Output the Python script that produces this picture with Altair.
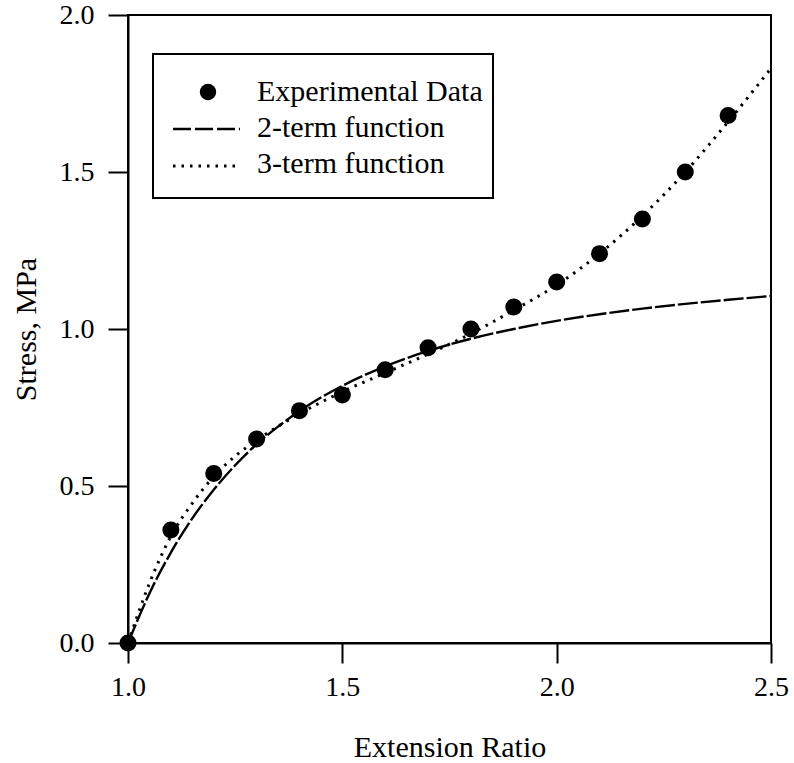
import altair as alt
import pandas as pd

# Experimental data
ext_ratio = [1.0, 1.1, 1.2, 1.3, 1.4, 1.5, 1.6, 1.7, 1.8, 1.9, 2.0, 2.1, 2.2, 2.3, 2.4]
stress_exp = [0.0, 0.36, 0.54, 0.65, 0.74, 0.79, 0.87, 0.94, 1.00, 1.07, 1.15, 1.24, 1.35, 1.50, 1.68]

# Fitted curves
curve_x = [1.0, 1.05, 1.1, 1.15, 1.2, 1.25, 1.3, 1.35, 1.4, 1.5, 1.6, 1.7, 1.8, 1.9,
           2.0, 2.1, 2.2, 2.3, 2.4, 2.5]
two_term = [0.0, 0.158, 0.288, 0.397, 0.488, 0.566, 0.633, 0.689, 0.739, 0.819, 0.881,
            0.930, 0.969, 1.000, 1.026, 1.047, 1.065, 1.080, 1.093, 1.105]
three_term = [0.0, 0.19, 0.34, 0.445, 0.53, 0.595, 0.645, 0.69, 0.73, 0.80, 0.86,
              0.92, 0.985, 1.06, 1.14, 1.24, 1.36, 1.50, 1.66, 1.83]

legend_labels = ["Experimental Data", "2-term function", "3-term function"]
x_ticks = [1.0, 1.5, 2.0, 2.5]
y_ticks = [0.0, 0.5, 1.0, 1.5, 2.0]

FONT = "Liberation Serif"

pts = pd.DataFrame({"x": ext_ratio, "y": stress_exp})
c2 = pd.DataFrame({"x": curve_x, "y": two_term})
c3 = pd.DataFrame({"x": curve_x, "y": three_term})
one = pd.DataFrame({"k": [0]})

xs = alt.Scale(domain=[1.0, 2.5], nice=False, zero=False)
ys = alt.Scale(domain=[0.0, 2.0], nice=False, zero=False)

xax = alt.Axis(values=x_ticks, format=".1f", title="Extension Ratio",
               titleBaseline="alphabetic", titleY=113, titleFontWeight="normal",
               labelPadding=10, labelFlush=False, labelOverlap=False, grid=False)
yax = alt.Axis(values=y_ticks, format=".1f", title="Stress, MPa",
               titleBaseline="alphabetic", titleX=-93, titleFontWeight="normal",
               labelPadding=14, labelFlush=False, labelOverlap=False, grid=False)

line2 = alt.Chart(c2).mark_line(color="black", strokeWidth=2.4, strokeDash=[20, 3],
                                interpolate="monotone").encode(
    x=alt.X("x:Q", scale=xs, axis=xax),
    y=alt.Y("y:Q", scale=ys, axis=yax),
)
line3 = alt.Chart(c3).mark_line(color="black", strokeWidth=3, strokeDash=[2.5, 6],
                                interpolate="monotone").encode(
    x=alt.X("x:Q", scale=xs),
    y=alt.Y("y:Q", scale=ys),
)
points = alt.Chart(pts).mark_circle(color="black", opacity=1, size=290, clip=False).encode(
    x=alt.X("x:Q", scale=xs),
    y=alt.Y("y:Q", scale=ys),
)

# Legend box
box = alt.Chart(one).mark_rect(fill="white", stroke="black", strokeWidth=2).encode(
    x=alt.value(25), x2=alt.value(365), y=alt.value(39), y2=alt.value(183)
)
leg_pt = alt.Chart(one).mark_circle(color="black", opacity=1, size=270).encode(
    x=alt.value(80), y=alt.value(77)
)
leg_l2 = alt.Chart(one).mark_rule(color="black", strokeWidth=2.4, strokeDash=[18, 4]).encode(
    x=alt.value(45), x2=alt.value(112), y=alt.value(114)
)
leg_l3 = alt.Chart(one).mark_rule(color="black", strokeWidth=3, strokeDash=[2.5, 6]).encode(
    x=alt.value(45), x2=alt.value(110), y=alt.value(151)
)
leg_texts = []
for lab, yy in zip(legend_labels, [86, 122, 158]):
    leg_texts.append(
        alt.Chart(one).mark_text(align="left", baseline="alphabetic", font=FONT,
                                 fontSize=30, color="black").encode(
            x=alt.value(129), y=alt.value(yy), text=alt.value(lab)
        )
    )

chart = alt.layer(line2, line3, points, box, leg_pt, leg_l2, leg_l3, *leg_texts).properties(
    width=643, height=628,
    autosize=alt.AutoSizeParams(type="none"),
    padding={"left": 128, "top": 15, "right": 23, "bottom": 120},
    background="white",
).configure_view(
    stroke="black", strokeWidth=2
).configure_axis(
    labelFont=FONT, titleFont=FONT, labelFontSize=28, titleFontSize=30,
    labelColor="black", titleColor="black",
    domainColor="black", domainWidth=2, tickColor="black", tickWidth=2, tickSize=20,
)

chart.save("out.html", embed_options={"renderer": "svg", "actions": False})
